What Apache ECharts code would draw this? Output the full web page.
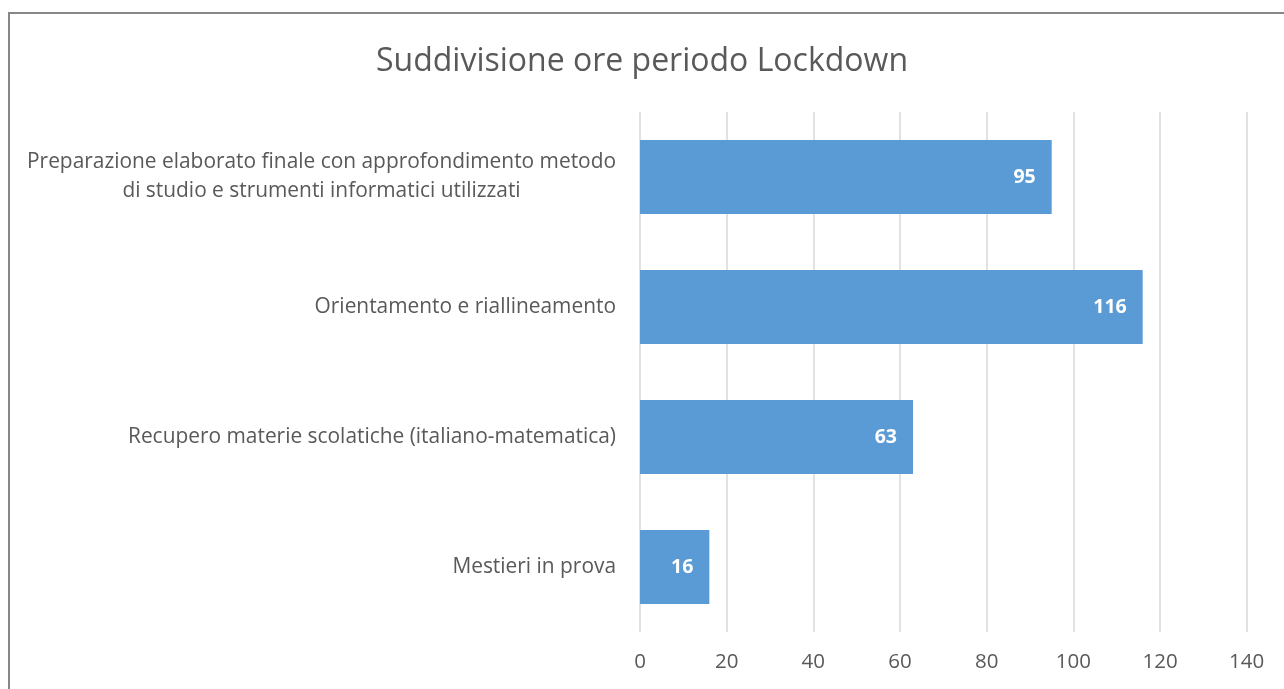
<!DOCTYPE html>
<html>
<head>
<meta charset="utf-8">
<script src="https://cdn.jsdelivr.net/npm/echarts@6/dist/echarts.min.js"></script>
<style>html,body{margin:0;padding:0;background:#fff;}#c{width:1284px;height:689px;}</style>
</head>
<body>
<div id="c"></div>
<script>
const titleText = 'Suddivisione ore periodo Lockdown';
const categories = [
  'Mestieri in prova',
  'Recupero materie scolatiche (italiano-matematica)',
  'Orientamento e riallineamento',
  'Preparazione elaborato finale con approfondimento metodo\ndi studio e strumenti informatici utilizzati'
];
const values = [16, 63, 116, 95];
const xTicks = [0, 20, 40, 60, 80, 100, 120, 140];

const FONT = '"Open Sans", sans-serif';
const chart = echarts.init(document.getElementById('c'));
chart.setOption({
  animation: false,
  backgroundColor: '#fff',
  title: {
    text: titleText,
    left: 'center',
    top: 41,
    textStyle: { fontFamily: FONT, fontSize: 32, fontWeight: 'normal', color: '#595959' }
  },
  graphic: [{
    type: 'rect',
    shape: { x: 9, y: 13, width: 1300, height: 700 },
    style: { fill: 'none', stroke: '#878787', lineWidth: 2 },
    silent: true, z: 100
  }],
  grid: { left: 640, right: 37.3, top: 112, bottom: 57 },
  xAxis: {
    type: 'value',
    min: xTicks[0],
    max: xTicks[xTicks.length - 1],
    interval: 20,
    axisLine: { show: false },
    axisTick: { show: false },
    splitLine: { lineStyle: { color: '#d9d9d9', width: 1.5 } },
    axisLabel: { fontFamily: FONT, fontSize: 20.5, color: '#595959', margin: 20 }
  },
  yAxis: {
    type: 'category',
    data: categories,
    axisLine: { show: false },
    axisTick: { show: false },
    axisLabel: {
      fontFamily: FONT, fontSize: 20.9, color: '#595959', margin: 24, lineHeight: 29,
      formatter: function (v) {
        const parts = v.split('\n');
        if (parts.length === 1) return '{a|' + v + '}';
        return '{a|' + parts[0] + '}\n{b|' + parts[1] + '}';
      },
      rich: {
        a: { fontFamily: FONT, fontSize: 20.9, color: '#595959', lineHeight: 29 },
        b: { fontFamily: FONT, fontSize: 20.9, color: '#595959', lineHeight: 29, align: 'center' }
      }
    }
  },
  series: [{
    type: 'bar',
    data: values,
    barCategoryGap: '43%',
    itemStyle: { color: '#5B9BD5' },
    label: {
      show: true,
      position: 'insideRight',
      distance: 16,
      color: '#fff',
      fontFamily: FONT,
      fontWeight: 'bold',
      fontSize: 19.5
    }
  }]
});
</script>
</body>
</html>
